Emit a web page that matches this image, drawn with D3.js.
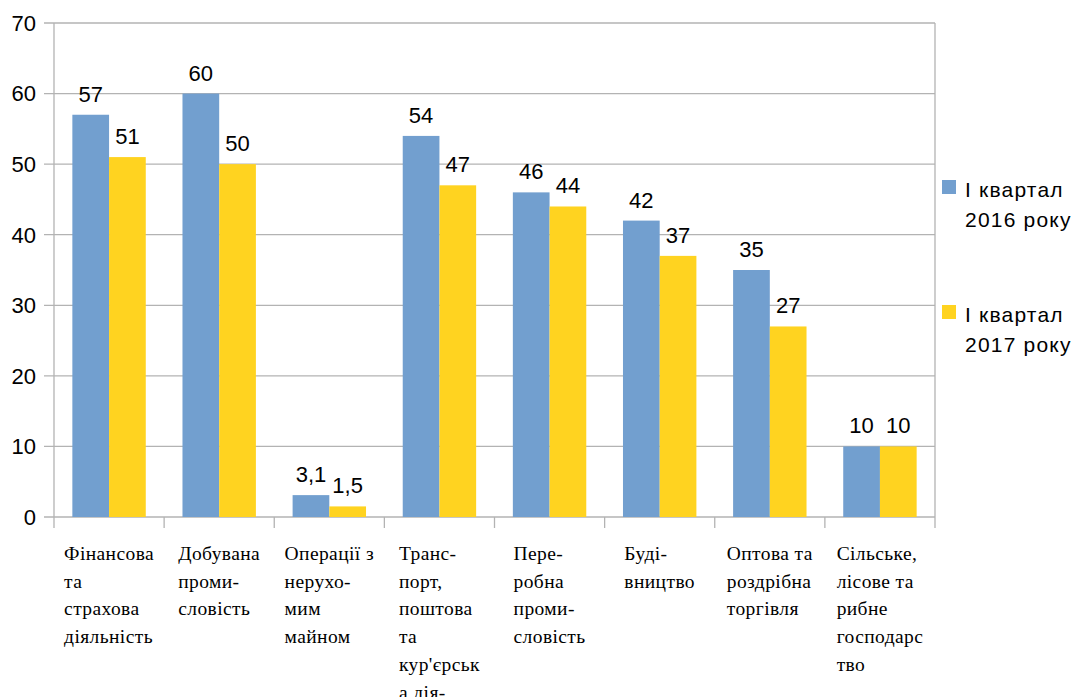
<!DOCTYPE html>
<html><head><meta charset="utf-8">
<script src="https://cdn.jsdelivr.net/npm/d3@7"></script>
<style>body{margin:0;background:#fff}svg{display:block}</style>
</head><body>
<svg id="c" width="1075" height="697"></svg>
<script>
const categories = [
  ["Фінансова","та","страхова","діяльність"],
  ["Добувана","проми-","словість"],
  ["Операції з","нерухо-","мим","майном"],
  ["Транс-","порт,","поштова","та","кур'єрськ","а дія-"],
  ["Пере-","робна","проми-","словість"],
  ["Буді-","вництво"],
  ["Оптова та","роздрібна","торгівля"],
  ["Сільське,","лісове та","рибне","господарс","тво"]
];
const seriesNames = [["I квартал","2016 року"],["I квартал","2017 року"]];
const values2016 = [57, 60, 3.1, 54, 46, 42, 35, 10];
const values2017 = [51, 50, 1.5, 47, 44, 37, 27, 10];
const yTicks = [0,10,20,30,40,50,60,70];
const colors = ["#729fcf","#ffd320"];

(function(){
const svg = d3.select("#c");
const pL = 54, pR = 935, pT = 23, pB = 517;
const catIdx = categories.map((d,i)=>i);
const x0 = d3.scaleBand().domain(catIdx).range([pL,pR]).padding(0);
const x1 = d3.scaleBand().domain([0,1]).range([0,x0.bandwidth()]).paddingInner(0).paddingOuter(0.5);
const y = d3.scaleLinear().domain([0,70]).range([pB,pT]);
const grid = "#b3b3b3";
const sans = "'Liberation Sans', Arial, sans-serif";
const serif = "'Liberation Serif', 'Times New Roman', serif";

svg.append("g").selectAll("line").data(yTicks).join("line")
  .attr("x1",pL-10).attr("x2",pR).attr("y1",d=>y(d)).attr("y2",d=>y(d))
  .attr("stroke",grid).attr("stroke-width",1.3);
svg.append("line").attr("x1",pL).attr("x2",pL).attr("y1",pT).attr("y2",pB+11).attr("stroke",grid).attr("stroke-width",1.3);
svg.append("line").attr("x1",pR).attr("x2",pR).attr("y1",pT).attr("y2",pB+11).attr("stroke",grid).attr("stroke-width",1.3);
svg.append("g").selectAll("line").data(catIdx.slice(1)).join("line")
  .attr("x1",d=>x0(d)).attr("x2",d=>x0(d)).attr("y1",pB).attr("y2",pB+11)
  .attr("stroke",grid).attr("stroke-width",1.3);
svg.append("g").selectAll("text").data(yTicks).join("text")
  .attr("x",36).attr("y",d=>y(d)).attr("dy","0.36em").attr("text-anchor","end")
  .attr("font-family",sans).attr("font-size",22).attr("fill","#000").text(d=>d);

const fmt = v => String(v).replace(".",",");
const series = [values2016, values2017];
series.forEach((vals,si)=>{
  const g = svg.append("g");
  g.selectAll("rect").data(vals).join("rect")
    .attr("x",(d,i)=>x0(i)+x1(si)).attr("width",x1.bandwidth())
    .attr("y",d=>y(d)).attr("height",d=>y(0)-y(d)).attr("fill",colors[si]);
  g.selectAll("text").data(vals).join("text")
    .attr("x",(d,i)=>x0(i)+x1(si)+x1.bandwidth()/2).attr("y",d=>y(d)-13)
    .attr("text-anchor","middle").attr("font-family",sans).attr("font-size",22).attr("fill","#000")
    .text(fmt);
});

categories.forEach((lines,i)=>{
  const g = svg.append("g");
  const ts = lines.map((l,k)=>g.append("text").attr("y",560+k*27.7)
    .attr("font-family",serif).attr("font-size",19.5).attr("letter-spacing","0.4px").attr("fill","#000").text(l));
  const w = d3.max(ts,t=>t.node().getComputedTextLength());
  const cx = x0(i)+x0.bandwidth()/2;
  ts.forEach(t=>t.attr("x",cx-w/2));
});

const legY = [180, 305];
seriesNames.forEach((lines,si)=>{
  svg.append("rect").attr("x",942).attr("y",legY[si]).attr("width",14).attr("height",14).attr("fill",colors[si]);
  lines.forEach((l,k)=>svg.append("text").attr("x",965).attr("y",legY[si]+17+k*30)
    .attr("font-family",sans).attr("font-size",21).attr("letter-spacing","1.2px").attr("fill","#000").text(l));
});
})();
</script>
</body></html>
